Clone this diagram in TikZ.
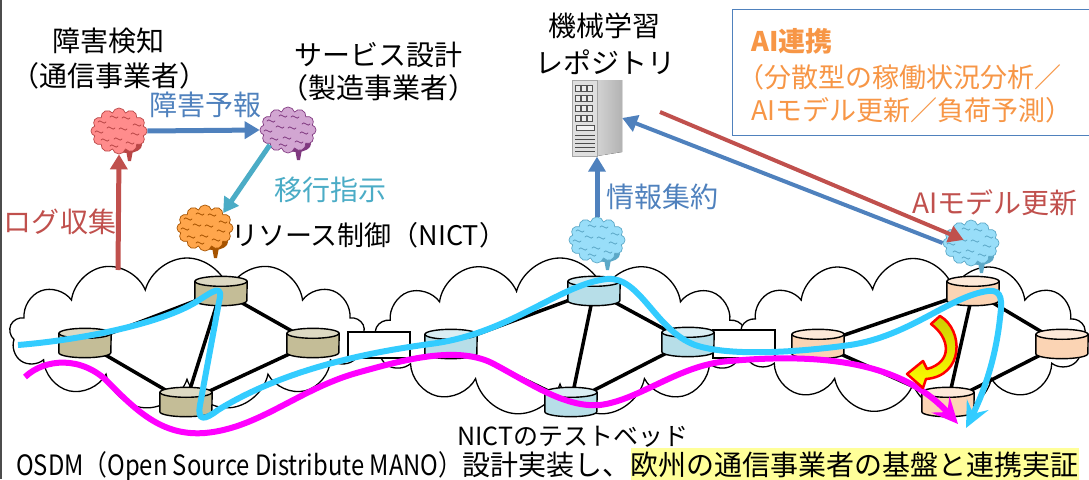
\documentclass[tikz,border=0pt]{standalone}
\usepackage{fontspec}
\setmainfont{Noto Sans CJK JP}
\usetikzlibrary{
    arrows.meta,
    calc,
    shapes.symbols,
    positioning
}

\definecolor{aiblue}{HTML}{4F81BD}
\definecolor{aiteal}{HTML}{4BACC6}
\definecolor{aired}{HTML}{C0504D}
\definecolor{aiorange}{HTML}{F79646}
\definecolor{flowcyan}{HTML}{33CCFF}
\definecolor{flowmag}{HTML}{FF00FF}
\definecolor{hilite}{HTML}{FFFF99}
\definecolor{tanbody}{HTML}{C4BD97}
\definecolor{tantop}{HTML}{DDD9C3}
\definecolor{icebody}{HTML}{B7DEE8}
\definecolor{icetop}{HTML}{DAEEF3}
\definecolor{peachbody}{HTML}{FBD4B4}
\definecolor{peachtop}{HTML}{FDE9D9}

\tikzset{
    netcloud/.style={cloud, cloud puffs=13, cloud ignores aspect, draw, fill=white, line width=1.3pt},
    link/.style={line width=3.5pt},
    dbbox/.style={inner sep=0pt, minimum width=52pt, minimum height=29pt},
    brainbody/.style={cloud, cloud puffs=12, cloud puff arc=150, cloud ignores aspect, minimum width=56pt, minimum height=46pt, inner sep=0pt, line width=0.7pt},
    flowarrow/.style={line width=5pt, -{Triangle[length=15pt,width=17pt]}},
    bigflow/.style={line width=6pt, line join=round, -{Stealth[length=26pt,width=24pt,inset=10pt]}},
    lbl/.style={font=\fontsize{28}{30}\selectfont, inner sep=0pt}
}

% cylinder: name, position, body colour, top colour
\newcommand{\dbnode}[4]{%
    \node[dbbox] (#1) at (#2) {};
    \filldraw[fill=#3, line width=1.4pt]
        ($(#1.north west)+(0,5)$) -- ($(#1.south west)+(0,-5)$)
        arc[start angle=180, end angle=0, x radius=26, y radius=5]
        -- ($(#1.north east)+(0,5)$) -- cycle;
    \filldraw[fill=#4, line width=1.4pt] ($(#1.north)+(0,5)$) ellipse[x radius=26, y radius=5];
}

% brain: name, position, fill, line
\newcommand{\brainicon}[4]{%
    \fill[#4] ($(#2)+(6,14)$) -- ($(#2)+(15,14)$) -- ($(#2)+(12,30)$) -- ($(#2)+(9,30)$) -- cycle;
    \fill[#4] ($(#2)+(9,14)$) ellipse[x radius=14, y radius=8];
    \node[brainbody, fill=#3, draw=#4] (#1) at (#2) {};
    \foreach \p/\q in {-17/-9, -5/-14, 7/-13, 18/-6, -20/1, -8/-3, 4/-2, 16/3, -14/9, -1/8, 11/12, -5/15}
        \draw[#4, line width=0.8pt, line cap=round]
            ($(#2)+(\p-4,\q)$) .. controls +(2,-4) and +(-2,4) .. ++(8,0);
}

\begin{document}
\begin{tikzpicture}[x=1pt, y=-1pt]
    \useasboundingbox (0,0) rectangle (1089,479);
    \draw[gray!60!black, line width=1.5pt] (0.75,0) -- (0.75,479);

    % the three networks
    \node[netcloud, minimum width=355, minimum height=152] (net1) at (187,334) {};
    \node[netcloud, minimum width=370, minimum height=158] (net2) at (560,337) {};
    \node[netcloud, minimum width=345, minimum height=155] (net3) at (913,336) {};
    \node[draw, fill=white, line width=1.3pt, minimum width=62, minimum height=26] (gw1) at (379,345) {};
    \node[draw, fill=white, line width=1.3pt, minimum width=62, minimum height=28] (gw2) at (744,344) {};

    % links
    \draw[link]
        (85,343) -- (221,291) -- (186,402) -- cycle
        (221,291) -- (313,343) -- (186,402)
        (451,344) -- (594,291) -- (571,402) -- cycle
        (594,291) -- (688,342) -- (571,402)
        (818,344) -- (973,291) -- (948,402) -- cycle
        (973,291) -- (1062,344) -- (948,402);

    \dbnode{a1}{85,343}{tanbody}{tantop}
    \dbnode{a2}{221,291}{tanbody}{tantop}
    \dbnode{a3}{186,402}{tanbody}{tantop}
    \dbnode{a4}{313,343}{tanbody}{tantop}
    \dbnode{b1}{451,344}{icebody}{icetop}
    \dbnode{b2}{594,291}{icebody}{icetop}
    \dbnode{b3}{571,402}{icebody}{icetop}
    \dbnode{b4}{688,342}{icebody}{icetop}
    \dbnode{c1}{818,344}{peachbody}{peachtop}
    \dbnode{c2}{973,291}{peachbody}{peachtop}
    \dbnode{c3}{948,402}{peachbody}{peachtop}
    \dbnode{c4}{1062,344}{peachbody}{peachtop}

    % repository server
    \node[inner sep=0pt, minimum width=50, minimum height=77] (repo) at (597,118) {};
    \fill[left color=gray!35, right color=gray!60] (597,80) -- (622,80) -- (622,152) -- (597,156) -- cycle;
    \fill[gray!25] (572,80) rectangle (597,156);
    \draw[gray!70, line width=0.6pt] (572,80) rectangle (597,156);
    \foreach \r in {85,95,105,115}
        \foreach \c in {575,581,587}
            \draw[gray!65!black, line width=0.6pt, fill=gray!15] (\c,\r) rectangle ++(5,6);
    \draw[gray!65!black, line width=0.8pt, fill=gray!10] (576,125) rectangle (594,130);
    \foreach \r in {135,139,143,147,151}
        \draw[gray!60!black, line width=0.6pt] (575,\r) -- (595,\r);

    % brains
    \brainicon{pkbrain}{119,131}{red!45!white}{red!45!gray}
    \brainicon{pbrain}{288,130}{violet!35!white}{violet!55!gray}
    \brainicon{obrain}{205,228}{orange!70!white}{orange!65!black}
    \brainicon{cbrain}{597,240}{cyan!40!white}{cyan!55!gray}
    \brainicon{rbrain}{971,243}{cyan!40!white}{cyan!55!gray}

    % info box
    \node[draw=aiblue, fill=white, line width=1.2pt, minimum width=362, minimum height=126, anchor=north west] (aibox) at (732,9) {};
    \node[anchor=west, text=aiorange, inner sep=0pt, font=\fontsize{27}{30}\selectfont\bfseries] (aihead) at (751,41) {AI連携};
    \node[anchor=west, text=aiorange, inner sep=0pt, font=\fontsize{27}{30}\selectfont] (aisub) at (737,77) {（分散型の稼働状況分析／};
    \node[anchor=west, text=aiorange, inner sep=0pt, font=\fontsize{27}{30}\selectfont] (aisub2) at (751,110) {AIモデル更新／負荷予測）};

    % signalling arrows
    \coordinate (logsrc) at (118,270);
    \coordinate (updsrc) at (660,112);
    \draw[flowarrow, aiblue] (pkbrain.east) -- (pbrain.west);
    \draw[flowarrow, aiteal] (pbrain.south west) -- (obrain.north east);
    \draw[flowarrow, aired] (logsrc) -- (pkbrain.south);
    \draw[flowarrow, aiblue] (cbrain.north) -- (repo.south);
    \draw[line width=4pt, aiblue, -{Triangle[length=15pt,width=17pt]}] (rbrain.west) -- (repo.east);
    \draw[line width=4pt, aired, -{Triangle[length=15pt,width=17pt]}, shorten >=8pt] (updsrc) -- (rbrain.center);

    % service flows
    \coordinate (cyanstart) at (18,345);
    \coordinate (magstart) at (25,377);
    \draw[bigflow, flowcyan] (cyanstart)
        .. controls (80,340) and (160,324) .. (196,302)
        .. controls (212,292) and (224,282) .. (219,302)
        -- (200,405)
        .. controls (197,422) and (205,420) .. (218,410)
        .. controls (270,378) and (340,356) .. (430,344)
        .. controls (510,334) and (560,284) .. (607,279)
        .. controls (640,276) and (655,330) .. (695,345)
        .. controls (730,357) and (800,352) .. (850,345)
        .. controls (910,336) and (950,296) .. (988,291)
        .. controls (1003,289) and (1002,302) .. (1000,318)
        .. controls (995,365) and (980,400) .. (966,428);
    \draw[bigflow, flowmag] (magstart)
        .. controls (45,358) and (82,356) .. (108,382)
        .. controls (140,415) and (165,436) .. (205,433)
        .. controls (260,428) and (300,388) .. (360,372)
        .. controls (400,361) and (455,345) .. (492,363)
        .. controls (530,383) and (565,408) .. (600,405)
        .. controls (640,400) and (680,364) .. (730,361)
        .. controls (830,352) and (905,365) .. (958,424);

    % migration arrow
    \filldraw[draw=red, line width=2.5pt, line join=round, top color=yellow!60!olive, bottom color=yellow]
        (931,324) .. controls (950,338) and (953,362) .. (927,369)
        -- (923,361) -- (907,374) -- (923,388) -- (926,379)
        .. controls (964,376) and (964,330) .. (940,316) -- cycle;

    % labels
    \node[lbl] at (108,41) {障害検知};
    \node[lbl] at (109,76) {（通信事業者）};
    \node[lbl] at (378,55) {サービス設計};
    \node[lbl] at (378,88) {（製造事業者）};
    \node[lbl] at (604,26) {機械学習};
    \node[lbl] at (605,62) {レポジトリ};
    \node[lbl, text=aiblue] at (205,105) {障害予報};
    \node[lbl, text=aiteal] at (330,190) {移行指示};
    \node[lbl, text=aired] at (60,222) {ログ収集};
    \node[lbl, anchor=west, font=\fontsize{27}{29}\selectfont] at (231,235) {リソース制御（NICT）};
    \node[lbl, text=aiblue] at (662,197) {情報集約};
    \node[lbl, text=aired] at (995,203) {AIモデル更新};
    \node[lbl, font=\fontsize{25}{27}\selectfont] at (573,437) {NICTのテストベッド};
    \node[lbl, anchor=base west, font=\fontsize{28}{30}\selectfont] (osdm) at (16,475)
        {\scalebox{0.85}[1]{OSDM（Open Source Distribute MANO）}設計実装し、};
    \node[lbl, anchor=base west, font=\fontsize{28}{30}\selectfont, fill=hilite, inner ysep=3pt] at (osdm.base east)
        {欧州の通信事業者の基盤と連携実証};
\end{tikzpicture}
\end{document}
